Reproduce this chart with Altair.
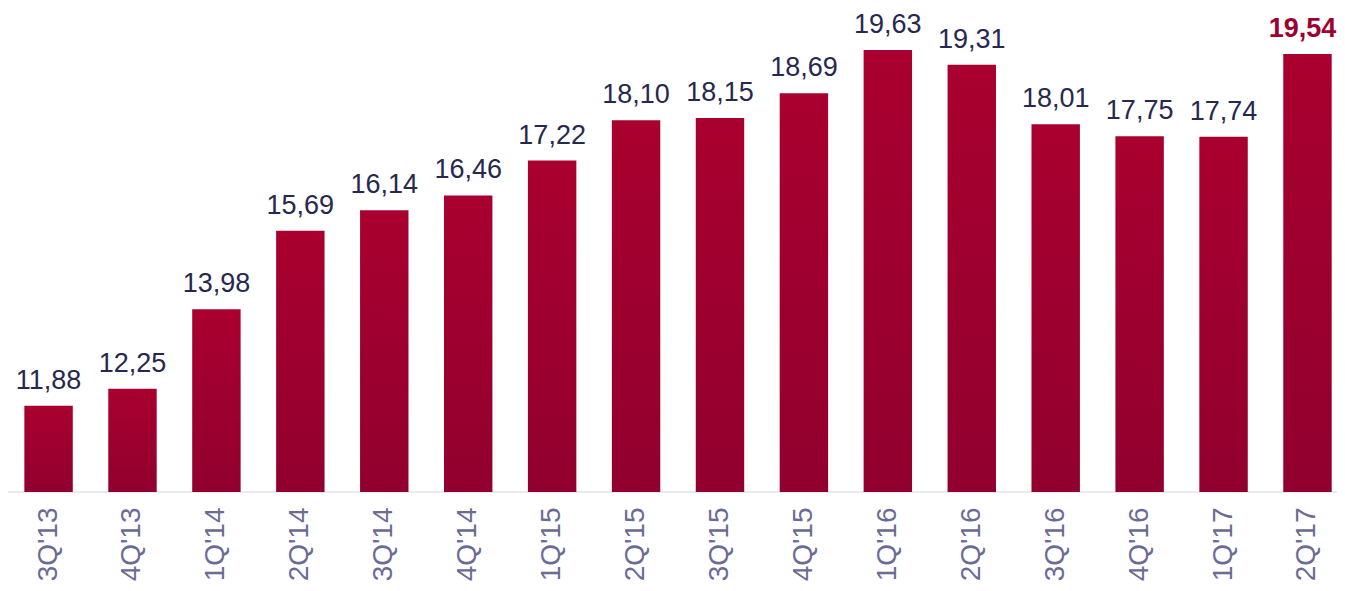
import altair as alt
import pandas as pd

quarters = ["3Q'13", "4Q'13", "1Q'14", "2Q'14", "3Q'14", "4Q'14", "1Q'15", "2Q'15",
            "3Q'15", "4Q'15", "1Q'16", "2Q'16", "3Q'16", "4Q'16", "1Q'17", "2Q'17"]
values = [11.88, 12.25, 13.98, 15.69, 16.14, 16.46, 17.22, 18.10,
          18.15, 18.69, 19.63, 19.31, 18.01, 17.75, 17.74, 19.54]
highlight = [False] * 15 + [True]

df = pd.DataFrame({
    "q": quarters,
    "v": values,
    "label": [f"{v:.2f}".replace(".", ",") for v in values],
    "hl": highlight,
})

FONT = "Liberation Sans"

x = alt.X("q:N", sort=quarters,
          scale=alt.Scale(paddingInner=0.423, paddingOuter=0.129, align=0.755),
          axis=alt.Axis(title=None, labelAngle=270, labelFontSize=28, labelColor="#6b6b93",
                        labelFont=FONT, ticks=False, domain=False, labelPadding=15, grid=False))
y = alt.Y("v:Q", scale=alt.Scale(domain=[10, 20], zero=False, nice=False), axis=None)

base = alt.Chart(df)

bars = base.mark_bar(
    color=alt.Gradient(gradient="linear",
                       stops=[alt.GradientStop(color="#a9002f", offset=0),
                              alt.GradientStop(color="#91002f", offset=1)],
                       x1=0, x2=0, y1=0, y2=1)
).encode(x=x, y=y, y2=alt.datum(10))

labels = base.transform_filter("!datum.hl").mark_text(
    baseline="alphabetic", dy=-17, fontSize=27, font=FONT, color="#27284d"
).encode(x=x, y=y, text="label:N")

hl_label = base.transform_filter("datum.hl").mark_text(
    baseline="alphabetic", dy=-17, dx=-5, fontSize=27, font=FONT, fontWeight="bold", color="#a0002f"
).encode(x=x, y=y, text="label:N")

rule = alt.Chart(pd.DataFrame({"b": [10]})).mark_rule(color="#ebebef", strokeWidth=2).encode(
    x=alt.value(-1), x2=alt.value(1337),
    y=alt.Y("b:Q", scale=alt.Scale(domain=[10, 20], zero=False, nice=False), axis=None)
)

chart = alt.layer(rule, bars, labels, hl_label).properties(
    width=1329, height=459,
    autosize=alt.AutoSizeParams(type="none"),
    padding={"top": 25, "left": 0, "right": 0, "bottom": 91},
).configure_view(stroke=None)

chart.save("out.html", embed_options={"renderer": "svg", "actions": False})
